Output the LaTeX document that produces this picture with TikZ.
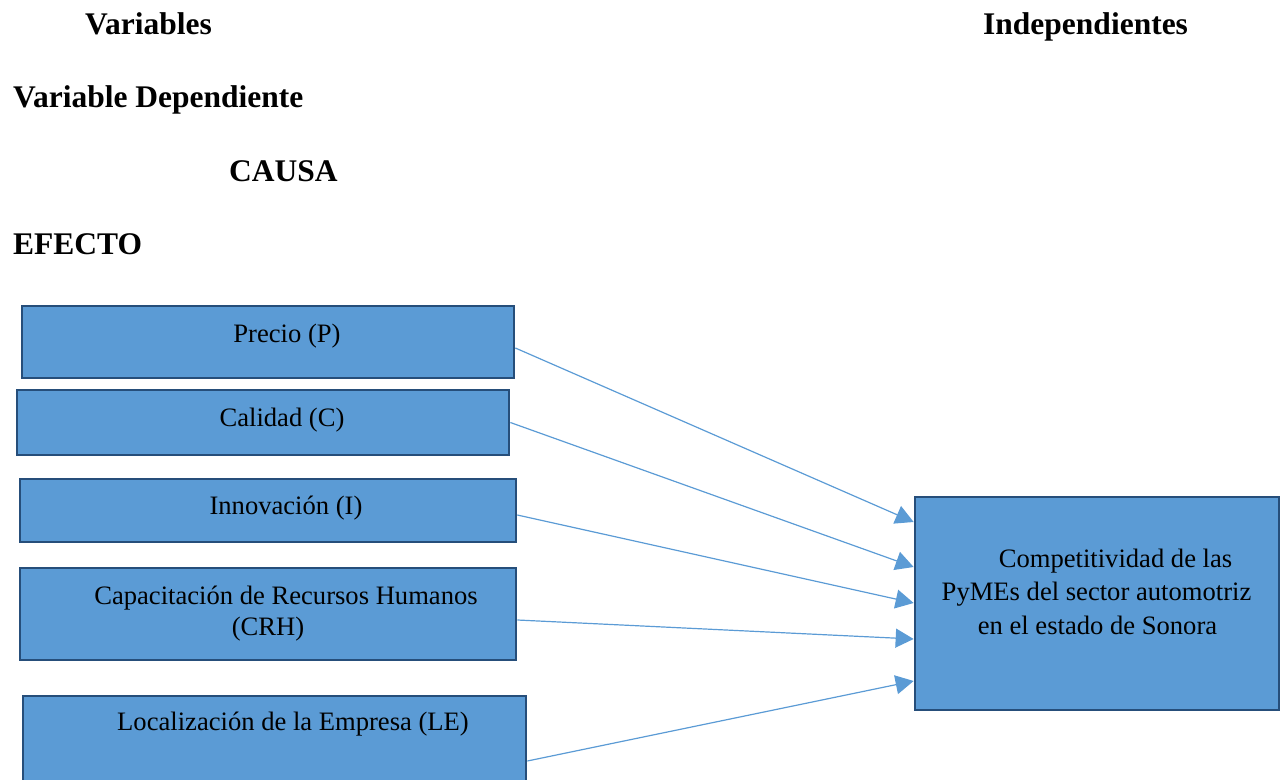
\documentclass[tikz,border=0pt]{standalone}
\usepackage{fontspec}
\setmainfont{Liberation Serif}
\usetikzlibrary{arrows.meta}
\definecolor{boxfill}{HTML}{5B9BD5}
\definecolor{boxline}{HTML}{264E7A}
\definecolor{arrowc}{HTML}{5B9BD5}
\begin{document}
\begin{tikzpicture}[x=1pt,y=-1pt,
  box/.style={draw=boxline, fill=boxfill, line width=2.7pt, inner sep=0pt, rectangle},
  body/.style={font=\fontsize{26.6}{33.5}\selectfont, anchor=base, inner sep=0pt},
  head/.style={font=\bfseries\fontsize{31.5}{38}\selectfont, anchor=base west, inner sep=0pt},
  arr/.style={draw=arrowc, line width=1.2pt, -{Triangle[length=18pt,width=19pt]}}]
\useasboundingbox (0,0) rectangle (1282,779);
\clip (0,0) rectangle (1282,779);
% headings
\node[head] (hvar) at (85,34) {Variables};
\node[head] (hind) at (983,34) {Independientes};
\node[head] (hdep) at (13,107) {Variable Dependiente};
\node[head] (hcausa) at (229,181) {CAUSA};
\node[head] (hefecto) at (13,254) {EFECTO};
% boxes
\node[box, minimum width=492pt, minimum height=72pt] (precio) at (268,342) {};
\node[box, minimum width=492pt, minimum height=65pt] (calidad) at (263,422.5) {};
\node[box, minimum width=496pt, minimum height=63pt] (innov) at (268,510.5) {};
\node[box, minimum width=496pt, minimum height=92pt] (capac) at (268,614) {};
\node[box, minimum width=503pt, minimum height=114pt] (local) at (274.5,753) {};
\node[box, minimum width=364pt, minimum height=213pt] (comp) at (1097,603.5) {};
% texts
\node[body] (tprecio) at (287,342) {Precio (P)};
\node[body] (tcalidad) at (282,426) {Calidad (C)};
\node[body] (tinnov) at (286,514) {Innovación (I)};
\node[body] (tcapac1) at (286,604) {Capacitación de Recursos Humanos};
\node[body] (tcapac2) at (268,635) {(CRH)};
\node[body] (tlocal) at (293,730) {Localización de la Empresa (LE)};
\node[body] (tcomp1) at (1115.5,567) {Competitividad de las};
\node[body] (tcomp2) at (1096.5,600) {PyMEs del sector automotriz};
\node[body] (tcomp3) at (1097.5,634) {en el estado de Sonora};
% arrows
\draw[arr] ([yshift=-6pt]precio.east) -- ([yshift=81.5pt]comp.west);
\draw[arr] (calidad.east) -- ([yshift=36.5pt]comp.west);
\draw[arr] ([yshift=-4.5pt]innov.east) -- ([yshift=0.5pt]comp.west);
\draw[arr] ([yshift=-6pt]capac.east) -- ([yshift=-35.5pt]comp.west);
\draw[arr] ([yshift=-8pt]local.east) -- ([yshift=-77.5pt]comp.west);
\end{tikzpicture}
\end{document}
